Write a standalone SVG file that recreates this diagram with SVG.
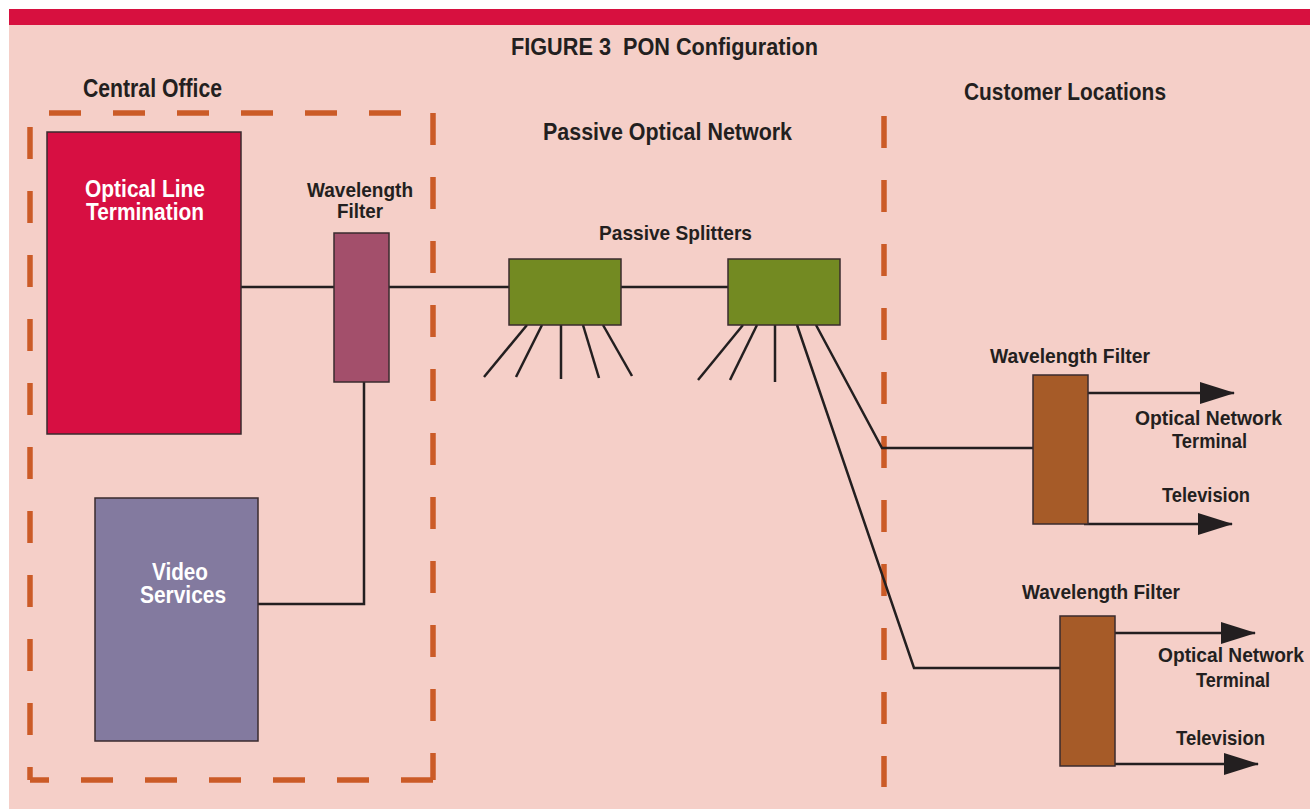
<svg xmlns="http://www.w3.org/2000/svg" width="1310" height="809" viewBox="0 0 1310 809">
<style>
.t{font-family:"Liberation Sans",Arial,sans-serif;font-weight:bold;fill:#231F20}
.w{fill:#FFFFFF}
.box{stroke:#3A2B2E;stroke-width:1.5}
.dash{stroke:#CB5B27;stroke-width:5.5;stroke-dasharray:32 32;fill:none}
.con{stroke:#231F20;stroke-width:2.5;fill:none}
</style>
<defs>
<marker id="ah" viewBox="0 0 35 22" refX="34" refY="11" markerWidth="35" markerHeight="22" markerUnits="userSpaceOnUse" orient="auto">
<path d="M0,0 L35,11 L0,22 z" fill="#231F20"/>
</marker>
</defs>
<rect x="0" y="0" width="1310" height="809" fill="#FFFFFF"/>
<rect x="9" y="25" width="1301" height="784" fill="#F5CFC8"/>
<rect x="9" y="9" width="1301" height="16" fill="#D7103F"/>

<text class="t" x="511" y="55" font-size="24" textLength="307" lengthAdjust="spacingAndGlyphs" xml:space="preserve" style="white-space:pre">FIGURE 3  PON Configuration</text>

<g id="regions">
<text class="t" x="83" y="97" font-size="25" textLength="139" lengthAdjust="spacingAndGlyphs">Central Office</text>
<text class="t" x="543" y="140" font-size="24" textLength="249" lengthAdjust="spacingAndGlyphs">Passive Optical Network</text>
<text class="t" x="964" y="100" font-size="24" textLength="202" lengthAdjust="spacingAndGlyphs">Customer Locations</text>
<line class="dash" x1="49" y1="113" x2="401" y2="113"/>
<line class="dash" x1="433" y1="113" x2="433" y2="780"/>
<line class="dash" x1="30" y1="127" x2="30" y2="780"/>
<line class="dash" x1="30" y1="780" x2="433" y2="780" stroke-dashoffset="13"/>
<line class="dash" x1="884" y1="116" x2="884" y2="787"/>
</g>

<g id="connectors">
<line class="con" x1="241" y1="287" x2="334" y2="287"/>
<line class="con" x1="389" y1="287" x2="509" y2="287"/>
<line class="con" x1="621" y1="287" x2="728" y2="287"/>
<polyline class="con" points="364,382 364,604 258,604"/>
<line class="con" x1="527" y1="325" x2="484" y2="377"/>
<line class="con" x1="542" y1="325" x2="516" y2="377"/>
<line class="con" x1="561" y1="325" x2="561" y2="379"/>
<line class="con" x1="583" y1="325" x2="599" y2="378"/>
<line class="con" x1="603" y1="325" x2="632" y2="376"/>
<line class="con" x1="743" y1="325" x2="698" y2="380"/>
<line class="con" x1="757" y1="325" x2="730" y2="380"/>
<line class="con" x1="775" y1="325" x2="775" y2="382"/>
<polyline class="con" points="816,325 882,448 1033,448"/>
<polyline class="con" points="797,325 914,668 1060,668"/>
<line class="con" x1="1087" y1="393" x2="1234" y2="393" marker-end="url(#ah)"/>
<line class="con" x1="1084" y1="524" x2="1232" y2="524" marker-end="url(#ah)"/>
<line class="con" x1="1108" y1="633" x2="1255" y2="633" marker-end="url(#ah)"/>
<line class="con" x1="1110" y1="764" x2="1258" y2="764" marker-end="url(#ah)"/>
</g>

<g id="olt">
<rect class="box" x="47" y="132" width="194" height="302" fill="#D70F42"/>
<text class="t w" x="85" y="197" font-size="23" textLength="120" lengthAdjust="spacingAndGlyphs">Optical Line</text>
<text class="t w" x="86" y="220" font-size="23" textLength="118" lengthAdjust="spacingAndGlyphs">Termination</text>
</g>

<g id="co-filter">
<rect class="box" x="334" y="233" width="55" height="149" fill="#A34F6B"/>
<text class="t" x="307" y="197" font-size="21" textLength="106" lengthAdjust="spacingAndGlyphs">Wavelength</text>
<text class="t" x="337" y="218" font-size="21" textLength="46" lengthAdjust="spacingAndGlyphs">Filter</text>
</g>

<g id="video">
<rect class="box" x="95" y="498" width="163" height="243" fill="#837A9F"/>
<text class="t w" x="152" y="580" font-size="23" textLength="56" lengthAdjust="spacingAndGlyphs">Video</text>
<text class="t w" x="140" y="603" font-size="23" textLength="86" lengthAdjust="spacingAndGlyphs">Services</text>
</g>

<g id="splitters">
<text class="t" x="599" y="240" font-size="21" textLength="153" lengthAdjust="spacingAndGlyphs">Passive Splitters</text>
<rect class="box" x="509" y="259" width="112" height="66" fill="#738A22"/>
<rect class="box" x="728" y="259" width="112" height="66" fill="#738A22"/>
</g>

<g id="cust-filter-1">
<text class="t" x="990" y="363" font-size="21" textLength="160" lengthAdjust="spacingAndGlyphs">Wavelength Filter</text>
<rect class="box" x="1033" y="375" width="55" height="149" fill="#A65B28"/>
<text class="t" x="1135" y="425" font-size="21" textLength="147" lengthAdjust="spacingAndGlyphs">Optical Network</text>
<text class="t" x="1172" y="448" font-size="21" textLength="75" lengthAdjust="spacingAndGlyphs">Terminal</text>
<text class="t" x="1162" y="502" font-size="21" textLength="88" lengthAdjust="spacingAndGlyphs">Television</text>
</g>

<g id="cust-filter-2">
<text class="t" x="1022" y="599" font-size="21" textLength="158" lengthAdjust="spacingAndGlyphs">Wavelength Filter</text>
<rect class="box" x="1060" y="616" width="55" height="150" fill="#A65B28"/>
<text class="t" x="1158" y="662" font-size="21" textLength="146" lengthAdjust="spacingAndGlyphs">Optical Network</text>
<text class="t" x="1196" y="687" font-size="21" textLength="74" lengthAdjust="spacingAndGlyphs">Terminal</text>
<text class="t" x="1176" y="745" font-size="21" textLength="89" lengthAdjust="spacingAndGlyphs">Television</text>
</g>
</svg>
